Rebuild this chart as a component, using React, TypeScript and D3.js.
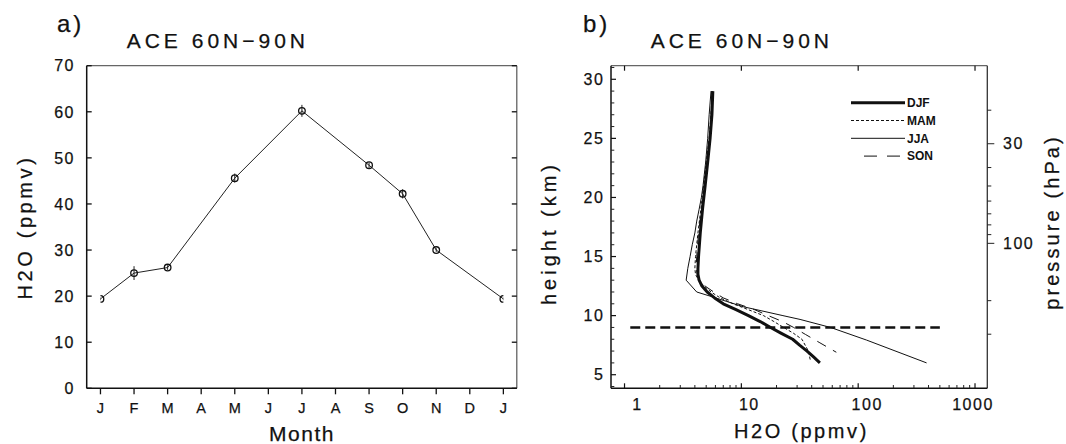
import React from 'react';
import * as d3 from 'd3';

// ---------- Data: panel a ----------
const monthLabels = ['J', 'F', 'M', 'A', 'M', 'J', 'J', 'A', 'S', 'O', 'N', 'D', 'J'];
const obsMonthIndex = [0, 1, 2, 4, 6, 8, 9, 10, 12];
const obsH2O = [19.4, 25.0, 26.2, 45.6, 60.2, 48.4, 42.2, 30.0, 19.4];
const obsErr = [0.3, 1.5, 0.5, 1.0, 1.3, 0.6, 1.0, 0.4, 0.3];
const leftYTicks = [0, 10, 20, 30, 40, 50, 60, 70];

// ---------- Data: panel b ----------
const djfHeight = [29, 27, 25, 23, 21, 19, 17, 15, 14, 13.5, 13, 12.5, 12, 11.5, 11, 10.5, 10, 9.5, 9, 8.5, 8, 7.5, 7, 6.5, 6];
const djfH2O = [5.7, 5.6, 5.4, 5.15, 4.9, 4.65, 4.45, 4.3, 4.25, 4.25, 4.35, 4.6, 5.1, 5.9, 7.0, 9.0, 11.5, 14.5, 17.8, 22, 27.5, 31.5, 36.5, 41.5, 47];

const mamHeight = [29, 27, 25, 23, 21, 19, 17, 15, 14, 13.5, 13, 12.5, 12, 11.5, 11, 10.5, 10, 9.5, 9, 8.5, 8, 7, 6.2];
const mamH2O = [5.6, 5.5, 5.3, 5.0, 4.75, 4.5, 4.25, 4.05, 4.0, 4.05, 4.3, 4.8, 5.5, 6.6, 8.5, 11.5, 15.5, 19, 23, 28, 33, 37.5, 39];

const jjaHeight = [29, 27, 25, 23, 21, 20, 19, 18, 17, 16, 15, 14, 13, 12, 11.65, 11.2, 10.75, 10.4, 10, 9.68, 9, 7.93, 6];
const jjaH2O = [5.5, 5.3, 5.15, 4.95, 4.7, 4.55, 4.35, 4.15, 4.0, 3.8, 3.64, 3.48, 3.37, 4.15, 5.4, 7.5, 10.4, 15, 22.7, 31.8, 58, 118, 385];

const sonHeight = [29, 27, 25, 23, 21, 20, 19, 17, 15, 14, 13.5, 13, 12.5, 12, 11.5, 11, 10.5, 10, 9.5, 9, 8.4, 7.7, 6.9];
const sonH2O = [5.6, 5.5, 5.35, 5.1, 4.85, 4.75, 4.55, 4.3, 4.15, 4.1, 4.2, 4.4, 4.9, 5.8, 7.0, 9.3, 13, 17, 22.5, 28, 35.5, 47, 65];

const seasonNames = ['DJF', 'MAM', 'JJA', 'SON'];
const heightMajorTicks = [5, 10, 15, 20, 25, 30];
const heightMinorTicks = [4, 6, 7, 8, 9, 11, 12, 13, 14, 16, 17, 18, 19, 21, 22, 23, 24, 26, 27, 28, 29, 31];
const h2oMajorTicks = [1, 10, 100, 1000];
const h2oMinorTicks = [2, 3, 4, 5, 6, 7, 8, 9, 20, 30, 40, 50, 60, 70, 80, 90, 200, 300, 400, 500, 600, 700, 800, 900];
const pressureTicks = [20, 30, 40, 50, 60, 70, 80, 90, 100, 200, 300];
const pressureLabels = [30, 100];
const tropopauseHeight = 9;
const tropopauseH2ORange = [1.12, 500];

// ---------- styles ----------
const FONT = "'Liberation Sans', Arial, sans-serif";
const h2oLabelDx = [13, 8, 9, -2];
const seasonStyle = [
  { w: 3, dash: null },
  { w: 1, dash: '3 2' },
  { w: 1, dash: null },
  { w: 1, dash: '10 8' },
];
const legendDash = [null, '3 2', null, '13 10'];
const textStroke = { stroke: '#111', strokeWidth: 0.25 };

export default function App() {
  // Panel a frame
  const aL = 86.7, aR = 516.8, aT = 65.7, aB = 388.3;
  const xA = d3.scaleLinear().domain([-0.41, 12.4]).range([aL, aR]);
  const yA = d3.scaleLinear().domain([0, 70]).range([aB, aT]);

  // Panel b frame
  const bL = 611, bR = 987.3, bT = 65.7, bB = 388.3;
  const xB = d3.scaleLog().domain([0.766, 1274]).range([bL, bR]);
  const yB = d3.scaleLinear().domain([3.85, 31.15]).range([bB, bT]);
  const pToH = (p: number) => 7 * Math.log(1000 / p);

  const obs = obsMonthIndex.map((m, i) => ({ m, v: obsH2O[i], e: obsErr[i] }));
  const lineA = d3.line<any>().x((d) => xA(d.m)).y((d) => yA(d.v));

  const seasons = [
    { h: djfHeight, v: djfH2O },
    { h: mamHeight, v: mamH2O },
    { h: jjaHeight, v: jjaH2O },
    { h: sonHeight, v: sonH2O },
  ];
  const lineB = d3
    .line<[number, number]>()
    .x((d) => xB(d[1]))
    .y((d) => yB(d[0]));

  const legendX1 = 851, legendX2 = 905;
  const legendY0 = 102.7, legendDy = 17.8;

  return (
    <svg
      width={1066}
      height={444}
      style={{ position: 'absolute', left: 0, top: 0, background: '#fff' }}
      fontFamily={FONT}
    >
      <defs>
        <clipPath id="clipA">
          <rect x={xA(0)} y={aT - 10} width={xA(12) - xA(0)} height={aB - aT + 20} />
        </clipPath>
        <clipPath id="clipB">
          <rect x={bL} y={bT} width={bR - bL} height={bB - bT} />
        </clipPath>
      </defs>

      {/* ================= Panel a ================= */}
      <text x={57} y={32} fontSize={24} letterSpacing={3} fill="#111" {...textStroke}>a)</text>
      <text x={126.7} y={48.3} fontSize={21} letterSpacing={4} fill="#111" {...textStroke}>ACE 60N−90N</text>

      {/* frame */}
      <line x1={aL} x2={aR} y1={aT} y2={aT} stroke="#666" strokeWidth={1.2} />
      <line x1={aR} x2={aR} y1={aT} y2={aB} stroke="#555" strokeWidth={1.2} />
      <line x1={aL} x2={aL} y1={aT} y2={aB} stroke="#111" strokeWidth={1.5} />
      <line x1={aL} x2={aR} y1={aB} y2={aB} stroke="#111" strokeWidth={1.5} />

      {/* y ticks */}
      {leftYTicks.map((t) => (
        <g key={'ya' + t}>
          <line x1={aL} x2={aL + 5} y1={yA(t)} y2={yA(t)} stroke="#111" strokeWidth={1.3} />
          <line x1={aR} x2={aR - 5} y1={yA(t)} y2={yA(t)} stroke="#111" strokeWidth={1.3} />
          <text x={75} y={yA(t)} dy="0.36em" textAnchor="end" fontSize={16} letterSpacing={1.5} fill="#111" {...textStroke}>
            {t}
          </text>
        </g>
      ))}

      {/* month ticks */}
      {monthLabels.map((mLab, i) => (
        <g key={'m' + i}>
          <line x1={xA(i)} x2={xA(i)} y1={aB} y2={aB + 6} stroke="#111" strokeWidth={1.3} />
          <text x={xA(i)} y={412.5} textAnchor="middle" fontSize={14.5} fill="#111" {...textStroke}>
            {mLab}
          </text>
        </g>
      ))}

      <text x={302} y={441} textAnchor="middle" fontSize={21} letterSpacing={1.5} fill="#111" {...textStroke}>Month</text>
      <text
        transform={`translate(32, ${(aT + aB) / 2}) rotate(-90)`}
        textAnchor="middle"
        fontSize={20}
        letterSpacing={3.6}
        fill="#111"
        {...textStroke}
      >
        H2O (ppmv)
      </text>

      {/* data */}
      <g clipPath="url(#clipA)">
        <path d={lineA(obs) || ''} fill="none" stroke="#222" strokeWidth={1} />
        {obs.map((d, i) => (
          <g key={'o' + i}>
            <line x1={xA(d.m)} x2={xA(d.m)} y1={yA(d.v - d.e)} y2={yA(d.v + d.e)} stroke="#222" strokeWidth={1} />
            <circle cx={xA(d.m)} cy={yA(d.v)} r={3.3} fill="none" stroke="#111" strokeWidth={1.3} />
          </g>
        ))}
      </g>

      {/* ================= Panel b ================= */}
      <text x={583} y={31.7} fontSize={24} letterSpacing={3} fill="#111" {...textStroke}>b)</text>
      <text x={650.7} y={48.3} fontSize={21} letterSpacing={4} fill="#111" {...textStroke}>ACE 60N−90N</text>

      <line x1={bL} x2={bR} y1={bT} y2={bT} stroke="#666" strokeWidth={1.2} />
      <line x1={bR} x2={bR} y1={bT} y2={bB} stroke="#333" strokeWidth={1.3} />
      <line x1={bL} x2={bL} y1={bT} y2={bB} stroke="#111" strokeWidth={1.5} />
      <line x1={bL} x2={bR} y1={bB} y2={bB} stroke="#111" strokeWidth={1.5} />

      {/* height ticks */}
      {heightMajorTicks.map((t) => (
        <g key={'hm' + t}>
          <line x1={bL} x2={bL + 5} y1={yB(t)} y2={yB(t)} stroke="#111" strokeWidth={1.2} />
          <text x={604.3} y={yB(t)} dy="0.36em" textAnchor="end" fontSize={16} letterSpacing={1.5} fill="#111" {...textStroke}>
            {t}
          </text>
        </g>
      ))}
      {heightMinorTicks.map((t) => (
        <line key={'hn' + t} x1={bL} x2={bL + 3.3} y1={yB(t)} y2={yB(t)} stroke="#222" strokeWidth={1} />
      ))}

      {/* H2O ticks */}
      {h2oMajorTicks.map((t, i) => (
        <g key={'xm' + t}>
          <line x1={xB(t)} x2={xB(t)} y1={bB} y2={bB - 5} stroke="#111" strokeWidth={1.2} />
          <line x1={xB(t)} x2={xB(t)} y1={bT} y2={bT + 5} stroke="#111" strokeWidth={1.2} />
          <text x={xB(t) + h2oLabelDx[i]} y={410} textAnchor="middle" fontSize={16} letterSpacing={1.5} fill="#111" {...textStroke}>
            {t}
          </text>
        </g>
      ))}
      {h2oMinorTicks.map((t) => (
        <line key={'xn' + t} x1={xB(t)} x2={xB(t)} y1={bB} y2={bB - 3.3} stroke="#222" strokeWidth={1} />
      ))}

      {/* pressure ticks */}
      {pressureTicks.map((p) => {
        const major = pressureLabels.includes(p);
        return (
          <line
            key={'p' + p}
            x1={bR}
            x2={bR + (major ? 7 : 4)}
            y1={yB(pToH(p))}
            y2={yB(pToH(p))}
            stroke="#222"
            strokeWidth={1}
          />
        );
      })}
      {pressureLabels.map((p) => (
        <text key={'pl' + p} x={1003} y={yB(pToH(p))} dy="0.36em" fontSize={16} letterSpacing={1.5} fill="#111" {...textStroke}>
          {p}
        </text>
      ))}

      <text x={801.5} y={438} textAnchor="middle" fontSize={20} letterSpacing={2.6} fill="#111" {...textStroke}>H2O (ppmv)</text>
      <text
        transform={`translate(556, ${(bT + bB) / 2 + 6}) rotate(-90)`}
        textAnchor="middle"
        fontSize={20}
        letterSpacing={4}
        fill="#111"
        {...textStroke}
      >
        height (km)
      </text>
      <text
        transform={`translate(1059, 222) rotate(-90)`}
        textAnchor="middle"
        fontSize={20}
        letterSpacing={3.1}
        fill="#111"
        {...textStroke}
      >
        pressure (hPa)
      </text>

      {/* profiles */}
      <g clipPath="url(#clipB)">
        {seasons.map((s, i) => (
          <path
            key={'s' + i}
            d={lineB(s.h.map((h, j) => [h, s.v[j]] as [number, number])) || ''}
            fill="none"
            stroke="#111"
            strokeWidth={seasonStyle[i].w}
            strokeDasharray={seasonStyle[i].dash || undefined}
            strokeLinejoin="round"
          />
        ))}
        <line
          x1={xB(tropopauseH2ORange[0])}
          x2={xB(tropopauseH2ORange[1])}
          y1={yB(tropopauseHeight)}
          y2={yB(tropopauseHeight)}
          stroke="#111"
          strokeWidth={2.5}
          strokeDasharray="10 5"
        />
      </g>

      {/* legend */}
      {seasonNames.map((name, i) => (
        <g key={'lg' + name}>
          <line
            x1={i === 3 ? 864 : legendX1}
            x2={legendX2}
            y1={legendY0 + i * legendDy}
            y2={legendY0 + i * legendDy}
            stroke="#111"
            strokeWidth={seasonStyle[i].w}
            strokeDasharray={legendDash[i] || undefined}
          />
          <text
            x={legendX2 + 2}
            y={legendY0 + i * legendDy}
            dy="0.36em"
            fontSize={12}
            fontWeight="bold"
            fill="#111"
          >
            {name}
          </text>
        </g>
      ))}
    </svg>
  );
}
